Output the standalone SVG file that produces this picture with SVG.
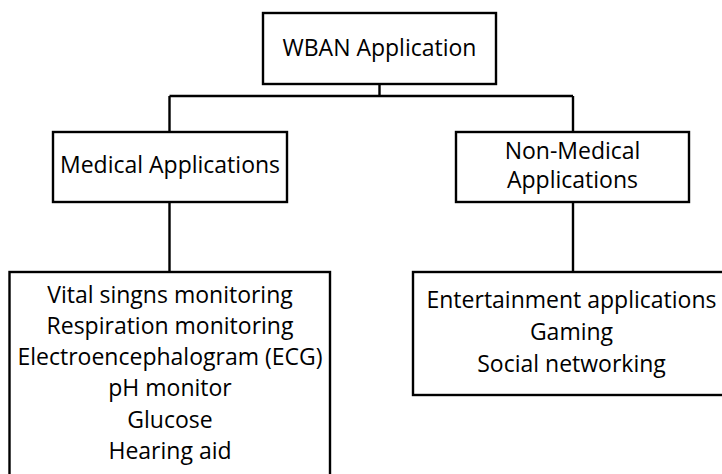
<svg xmlns="http://www.w3.org/2000/svg" width="722" height="474" viewBox="0 0 722 474">
  <style>
    .box { fill: #ffffff; stroke: #000000; stroke-width: 2.4; }
    .wire { fill: none; stroke: #000000; stroke-width: 2.4; }
    .label { font-family: "Open Sans", "Liberation Sans", sans-serif; font-size: 23px; fill: #000000; text-anchor: middle; }
  </style>
  <rect x="0" y="0" width="722" height="474" fill="#ffffff"/>

  <g id="connectors">
    <path class="wire" d="M379.5,84 V96 M169.5,96 H573 M169.5,96 V132 M573,96 V132 M169.5,202 V272 M573,202 V272"/>
  </g>

  <g id="wban-application">
    <rect class="box" x="263" y="13" width="233" height="71"/>
    <text class="label" x="379.5" y="56">WBAN Application</text>
  </g>

  <g id="medical-applications">
    <rect class="box" x="53" y="132" width="234" height="70"/>
    <text class="label" x="170" y="173">Medical Applications</text>
  </g>

  <g id="non-medical-applications">
    <rect class="box" x="456" y="132" width="233" height="70"/>
    <text class="label" x="572.5" y="159">Non-Medical</text>
    <text class="label" x="572.5" y="188">Applications</text>
  </g>

  <g id="medical-uses">
    <rect class="box" x="9.5" y="272" width="320.5" height="230"/>
    <text class="label" x="170" y="303">Vital singns monitoring</text>
    <text class="label" x="170" y="334">Respiration monitoring</text>
    <text class="label" x="170" y="365">Electroencephalogram (ECG)</text>
    <text class="label" x="170" y="396">pH monitor</text>
    <text class="label" x="170" y="428">Glucose</text>
    <text class="label" x="170" y="459">Hearing aid</text>
  </g>

  <g id="non-medical-uses">
    <rect class="box" x="413" y="272" width="330" height="123"/>
    <text class="label" x="571.5" y="308">Entertainment applications</text>
    <text class="label" x="571.5" y="340">Gaming</text>
    <text class="label" x="571.5" y="372">Social networking</text>
  </g>
</svg>
